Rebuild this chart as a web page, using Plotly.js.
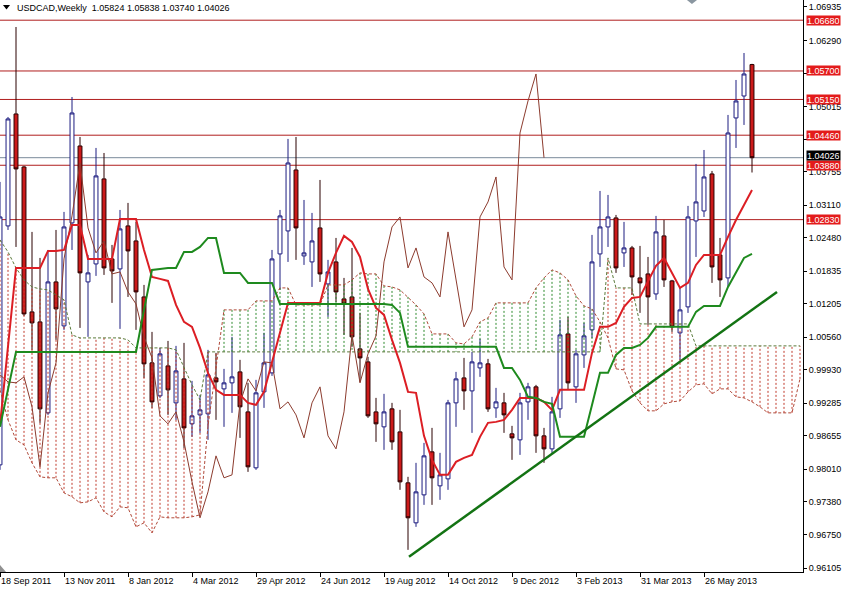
<!DOCTYPE html>
<html><head><meta charset="utf-8">
<script src="https://cdn.plot.ly/plotly-3.0.1.min.js"></script>
<style>html,body{margin:0;padding:0;background:#fff}#chart{width:845px;height:589px}</style>
</head><body><div id="chart"></div>
<script>
// ---- Weekly USDCAD candles (bar 0 = week of 18 Sep 2011) ----
const openP=[0.98096,1.02709,1.04870,1.03847,1.01049,1.00856,0.99100,1.01628,1.00779,1.02767,
1.04252,1.01628,1.01975,1.03616,1.02072,1.01879,1.02709,1.02419,1.01338,1.00065,
0.99428,1.00007,0.99293,0.99756,0.98888,0.99061,0.99081,0.99775,0.99563,0.99679,
0.99891,0.99119,0.98039,0.99505,0.99872,1.02168,1.02612,1.03789,1.02130,1.02014,
1.02670,1.01589,1.02014,1.01300,1.01338,1.00335,1.00084,0.99119,0.98830,0.99177,
0.98733,0.97749,0.96977,0.97517,0.98347,0.97691,0.97826,0.99293,0.99775,0.99524,
0.99968,1.00046,0.99196,0.99293,0.98695,0.98579,0.99312,0.99602,0.98656,0.98405,
0.99177,1.00624,0.99602,1.00219,1.00702,1.02168,1.02689,1.02863,1.02188,1.02284,
1.01705,1.01782,1.01396,1.02516,1.01647,1.00644,1.01146,1.02805,1.02998,1.03712,
1.02149,1.01705,1.04793,1.05217,1.05824];
const highP=[1.03558,1.04812,1.06549,1.03867,1.02593,1.02091,1.02245,1.02631,1.02979,1.05198,
1.04426,1.02149,1.04214,1.04117,1.02342,1.03017,1.03153,1.02786,1.01570,1.00663,
1.00354,1.00489,1.00393,1.00451,0.99717,0.99447,1.00316,1.00258,0.99949,1.00567,
1.00123,0.99679,0.99737,1.00644,1.02245,1.03017,1.04388,1.04426,1.03210,1.02960,
1.03596,1.02053,1.02477,1.01705,1.02284,1.01030,1.00181,0.99389,0.99467,0.99293,
0.99158,0.97865,0.98135,0.98521,0.98810,0.98328,0.99351,0.99891,1.00161,1.00277,
1.00528,1.00142,0.99582,0.99486,0.98849,0.99486,0.99679,0.99640,0.98810,0.99409,
1.00895,1.00953,1.00316,1.00837,1.02535,1.03384,1.03307,1.02921,1.02786,1.02323,
1.02323,1.02110,1.02902,1.02824,1.01667,1.01512,1.03095,1.03905,1.04175,1.03770,
1.02477,1.04851,1.05526,1.06047,1.05838];
const lowP=[0.98000,1.02631,1.02303,1.00972,1.00316,0.98907,0.99061,1.00509,1.00702,1.02245,
1.00740,1.00567,1.01744,1.01763,1.01223,1.00721,1.01338,1.00702,0.99775,0.99196,
0.99389,0.99061,0.98965,0.98424,0.98637,0.98714,0.98579,0.98965,0.98830,0.99100,
0.98617,0.97961,0.98000,0.99196,0.99814,1.01474,1.02014,1.02053,1.01956,1.01531,
1.01628,1.00953,1.01242,1.00605,1.00374,0.99698,0.99003,0.98540,0.98386,0.98386,
0.97614,0.96456,0.96900,0.97324,0.97324,0.97421,0.97614,0.98830,0.99158,0.98714,
0.99795,0.99119,0.99003,0.98714,0.98193,0.98289,0.98965,0.98328,0.98135,0.98328,
0.99003,0.99544,0.99293,0.99968,1.00547,1.01917,1.02303,1.01802,1.01917,1.01377,
1.01030,1.00798,1.01281,1.01531,1.00663,1.00123,1.01030,1.02110,1.02882,1.01609,
1.01338,1.01531,1.04214,1.04658,1.03740];
const closeP=[1.02882,1.04774,1.03809,1.01010,1.00837,0.99177,1.01628,1.01107,1.02689,1.04889,
1.01802,1.01802,1.03674,1.01898,1.01840,1.02651,1.02226,1.01435,1.00046,0.99312,
1.00239,0.99544,0.99910,0.98810,0.99042,0.99158,0.99833,0.99698,0.99679,0.99795,
0.99216,0.98058,0.99486,1.00065,1.02072,1.02902,1.03924,1.02670,1.02188,1.02419,
1.01782,1.01821,1.01435,1.01203,1.00567,1.00161,0.99042,0.98888,0.99119,0.98540,
0.97768,0.97074,0.97575,0.98270,0.97846,0.97903,0.99293,0.99756,0.99524,1.00084,
1.00065,0.99177,0.99312,0.99061,0.98617,0.99293,0.99602,0.98656,0.98405,0.99119,
1.00605,0.99679,1.00239,1.00586,1.02014,1.02689,1.02882,1.01898,1.02284,1.01724,
1.01609,1.01338,1.02593,1.01667,1.00760,1.01088,1.02882,1.03172,1.03654,1.01917,
1.01667,1.04503,1.05121,1.05642,1.04026];

// ---- Ichimoku lines ----
const tenkan=[0.98868,1.00393,1.01898,1.01898,1.01898,1.01898,1.02226,1.02226,1.02245,1.02728,
1.02728,1.02072,1.02072,1.02072,1.02072,1.02844,1.02844,1.02844,1.02245,1.01724,
1.01686,1.01647,1.01184,1.00856,1.00760,1.00354,0.99872,0.99544,0.99447,0.99447,
0.99447,0.99293,0.99254,0.99505,1.00084,1.00644,1.01223,1.01223,1.01223,1.01223,
1.01223,1.01802,1.02188,1.02516,1.02400,1.02110,1.01493,1.01126,1.00991,1.00509,
1.00065,0.99505,0.99486,0.98656,0.98193,0.97903,0.97903,0.98154,0.98231,0.98289,
0.98637,0.98907,0.98926,0.98965,0.99158,0.99389,0.99389,0.99389,0.99312,0.99158,
0.99544,0.99544,0.99544,0.99544,1.00258,1.00760,1.00760,1.00837,1.01146,1.01319,
1.01338,1.01647,1.01937,1.02091,1.01802,1.01512,1.01609,1.01956,1.02149,1.02149,
1.02149,1.02496,1.02824,1.03114,1.03403];
const kijun=[0.98830,0.99544,1.00277,1.00277,1.00277,1.00277,1.00277,1.00277,1.00277,1.00277,
1.00277,1.00277,1.00277,1.00277,1.00277,1.00277,1.00277,1.00277,1.01088,1.01860,
1.01879,1.01898,1.01898,1.02207,1.02207,1.02303,1.02477,1.02477,1.01802,1.01802,
1.01802,1.01609,1.01609,1.01609,1.01609,1.01203,1.01203,1.01203,1.01203,1.01203,
1.01203,1.01203,1.01203,1.01203,1.01203,1.01203,1.01203,1.01203,1.01203,1.01184,
1.01030,1.00374,1.00374,1.00374,1.00374,1.00374,1.00374,1.00374,1.00374,1.00374,
1.00374,1.00374,1.00374,0.99968,0.99968,0.99737,0.99409,0.99389,0.99312,0.99274,
0.98637,0.98637,0.98637,0.98637,0.99254,0.99872,0.99872,1.00219,1.00354,1.00354,
1.00412,1.00547,1.00760,1.00760,1.00760,1.00760,1.00760,1.01049,1.01165,1.01165,
1.01165,1.01531,1.01821,1.02091,1.02168];
const chikou=[0.99833,0.99698,0.99679,0.99795,0.99216,0.98058,0.99486,1.00065,1.02072,1.02902,
1.03924,1.02670,1.02188,1.02419,1.01782,1.01821,1.01435,1.01203,1.00567,1.00161,
0.99042,0.98888,0.99119,0.98540,0.97768,0.97074,0.97575,0.98270,0.97846,0.97903,
0.99293,0.99756,0.99524,1.00084,1.00065,0.99177,0.99312,0.99061,0.98617,0.99293,
0.99602,0.98656,0.98405,0.99119,1.00605,0.99679,1.00239,1.00586,1.02014,1.02689,
1.02882,1.01898,1.02284,1.01724,1.01609,1.01338,1.02593,1.01667,1.00760,1.01088,
1.02882,1.03172,1.03654,1.01917,1.01667,1.04503,1.05121,1.05642,1.04026];
const spanA=[0.99544,0.98965,0.98579,0.98482,0.98135,0.97865,0.97846,0.97846,0.97556,0.97479,
0.97363,0.97382,0.97460,0.97190,0.97093,0.97286,0.97267,0.96900,0.96977,0.96784,
0.97093,0.97074,0.97074,0.97074,0.97093,0.97132,0.98849,0.99968,1.01088,1.01088,
1.01088,1.01088,1.01261,1.01261,1.01261,1.01512,1.01512,1.01184,1.01184,1.01184,
1.01184,1.01570,1.01570,1.01570,1.01667,1.01802,1.01782,1.01782,1.01551,1.01531,
1.01474,1.01338,1.01184,1.01010,1.00624,1.00624,1.00624,1.00451,1.00431,1.00567,
1.00856,1.00933,1.01223,1.01223,1.01223,1.01223,1.01223,1.01512,1.01705,1.01860,
1.01802,1.01667,1.01358,1.01165,1.01107,1.00856,1.00547,0.99949,0.99930,0.99524,
0.99293,0.99139,0.99139,0.99274,0.99312,0.99332,0.99505,0.99640,0.99660,0.99467,
0.99563,0.99563,0.99409,0.99389,0.99312,0.99216,0.99100,0.99100,0.99100,0.99100,
0.99756];
const spanB=[1.02438,1.02207,1.01898,1.01667,1.01531,1.01493,1.01474,1.01377,1.01281,1.00605,
1.00547,1.00547,1.00547,1.00547,1.00547,1.00547,1.00509,1.00354,1.00354,1.00354,
1.00354,1.00354,1.00316,0.99988,0.99640,0.99351,1.00277,1.00277,1.00277,1.00277,
1.00277,1.00277,1.00277,1.00277,1.00277,1.00277,1.00277,1.00277,1.00277,1.00277,
1.00277,1.00277,1.00277,1.00277,1.00277,1.00277,1.00277,1.00277,1.00277,1.00277,
1.00277,1.00277,1.00277,1.00277,1.00277,1.00277,1.00277,1.00277,1.00277,1.00277,
1.00277,1.00277,1.00277,1.00277,1.00277,1.00277,1.00277,1.00277,1.00277,1.00277,
1.00277,1.00277,1.00277,1.00277,1.00277,1.00277,1.02091,1.01512,1.01512,1.01512,
1.00817,1.00817,1.00817,1.00817,1.00817,1.00817,1.00817,1.00393,1.00393,1.00393,
1.00393,1.00393,1.00393,1.00393,1.00393,1.00393,1.00393,1.00393,1.00393,1.00393,
1.00393];

// trend line (bar index, price) and horizontal levels
const trendBars=[51.125,97.125];
const trendPrices=[0.96321,1.01435];
const levels=[1.06680,1.05700,1.05150,1.04460,1.03880,1.02830];
const lastPrice=1.04026;
const headerText='USDCAD,Weekly  1.05824 1.05838 1.03740 1.04026';

// axis ticks
const dateTickBars=[0,8,16,24,32,40,48,56,64,72,80,88];
const dateTickLabels=['18 Sep 2011','13 Nov 2011','8 Jan 2012','4 Mar 2012','29 Apr 2012','24 Jun 2012','19 Aug 2012','14 Oct 2012','9 Dec 2012','3 Feb 2013','31 Mar 2013','26 May 2013'];
const priceTicks=[0.96105,0.96750,0.97380,0.98010,0.98655,0.99285,0.99930,1.00560,1.01205,1.01835,1.02480,1.03110,1.03755,1.04385,1.05015,1.05660,1.06290,1.06935];
const hiddenTicks=[1.04385,1.05660]; // fully covered by level boxes in the original

// ---- build traces ----
const FONT='Liberation Sans, Arial, sans-serif';
const barIdx=openP.map((_,i)=>i);
const spanIdx=spanA.map((_,i)=>i);
const chikouIdx=chikou.map((_,i)=>i);

const hatchG={x:[],y:[]}, hatchR={x:[],y:[]};
spanA.forEach((a,t)=>{const b=spanB[t];const s=(a>=b)?hatchG:hatchR;s.x.push(t,t,null);s.y.push(a,b,null);});

const traces=[
 {type:'scatter',mode:'lines',x:hatchR.x,y:hatchR.y,line:{color:'#c0392b',width:1,dash:'2px,2px'},hoverinfo:'skip'},
 {type:'scatter',mode:'lines',x:hatchG.x,y:hatchG.y,line:{color:'#2e8b2e',width:1,dash:'2px,2px'},hoverinfo:'skip'},
 {type:'scatter',mode:'lines',x:spanIdx,y:spanA,line:{color:'#b04a3a',width:1,dash:'3px,2px'},hoverinfo:'skip'},
 {type:'scatter',mode:'lines',x:spanIdx,y:spanB,line:{color:'#5a7a3a',width:1,dash:'3px,2px'},hoverinfo:'skip'},
 {type:'scatter',mode:'lines',x:chikouIdx,y:chikou,line:{color:'#8c3b2e',width:1},hoverinfo:'skip'},
 {type:'candlestick',x:barIdx,open:openP,high:highP,low:lowP,close:closeP,whiskerwidth:0,
  increasing:{line:{color:'#1c1c80',width:1},fillcolor:'#ffffff'},
  decreasing:{line:{color:'#2a0000',width:1},fillcolor:'#cc1a1a'},hoverinfo:'skip'},
 {type:'scatter',mode:'lines',x:barIdx,y:tenkan,line:{color:'#dc1e24',width:2},hoverinfo:'skip'},
 {type:'scatter',mode:'lines',x:barIdx,y:kijun,line:{color:'#1e8a1e',width:2},hoverinfo:'skip'},
 {type:'scatter',mode:'lines',x:trendBars,y:trendPrices,line:{color:'#137313',width:2.5},hoverinfo:'skip'}
];

const shapes=[];
levels.forEach(v=>shapes.push({type:'line',xref:'paper',x0:0,x1:1,yref:'y',y0:v,y1:v,line:{color:'#b01e1e',width:1},layer:'below'}));
shapes.push({type:'line',xref:'paper',x0:0,x1:1,yref:'y',y0:lastPrice,y1:lastPrice,line:{color:'#7a8a9a',width:1},layer:'below'});
// header triangle, shift marker and corner marker
shapes.push({type:'path',xref:'paper',yref:'paper',path:'M 0.0037 0.9913 L 0.0125 0.9913 L 0.0081 0.9834 Z',fillcolor:'#000',line:{width:0}});
shapes.push({type:'path',xref:'paper',yref:'paper',path:'M 0.8555 1 L 0.8680 1 L 0.8617 0.993 Z',fillcolor:'#8a96a0',line:{width:0}});
shapes.push({type:'path',xref:'paper',yref:'paper',path:'M 0 0.0122 L 0.0075 0 L 0 0 Z',fillcolor:'#909090',line:{width:0}});

const annotations=[{xref:'paper',yref:'paper',x:0.0187,y:0.986,xanchor:'left',yanchor:'middle',text:headerText,showarrow:false,font:{family:FONT,size:9,color:'#000'}}];
levels.forEach(v=>annotations.push({xref:'paper',yref:'y',x:1,y:v,xanchor:'left',yanchor:'middle',xshift:3,height:9,valign:'middle',text:v.toFixed(5),showarrow:false,bgcolor:'#e31b1b',borderpad:0,font:{family:FONT,size:9,color:'#fff'}}));
annotations.push({xref:'paper',yref:'y',x:1,y:lastPrice,xanchor:'left',yanchor:'middle',xshift:3,yshift:2,height:9,valign:'middle',text:lastPrice.toFixed(5),showarrow:false,bgcolor:'#000',borderpad:0,font:{family:FONT,size:9,color:'#fff'}});

const layout={width:845,height:589,margin:{l:0,r:42,t:0,b:17},paper_bgcolor:'#fff',plot_bgcolor:'#fff',showlegend:false,
 xaxis:{range:[0,100.375],showgrid:false,zeroline:false,showline:true,linecolor:'#000',linewidth:1,ticks:'outside',ticklen:4,tickcolor:'#000',
  tickvals:dateTickBars,ticktext:dateTickLabels,ticklabelposition:'outside right',tickfont:{family:FONT,size:9,color:'#000'},rangeslider:{visible:false},fixedrange:true},
 yaxis:{range:[0.96028,1.0707],side:'right',showgrid:false,zeroline:false,showline:true,linecolor:'#000',linewidth:1,ticks:'outside',ticklen:3,tickcolor:'#000',
  tickvals:priceTicks,ticktext:priceTicks.map(v=>hiddenTicks.includes(v)?'':v.toFixed(5)),tickfont:{family:FONT,size:9,color:'#000'},fixedrange:true},
 shapes:shapes,annotations:annotations};

Plotly.newPlot('chart',traces,layout,{staticPlot:true,displayModeBar:false});
</script></body></html>
